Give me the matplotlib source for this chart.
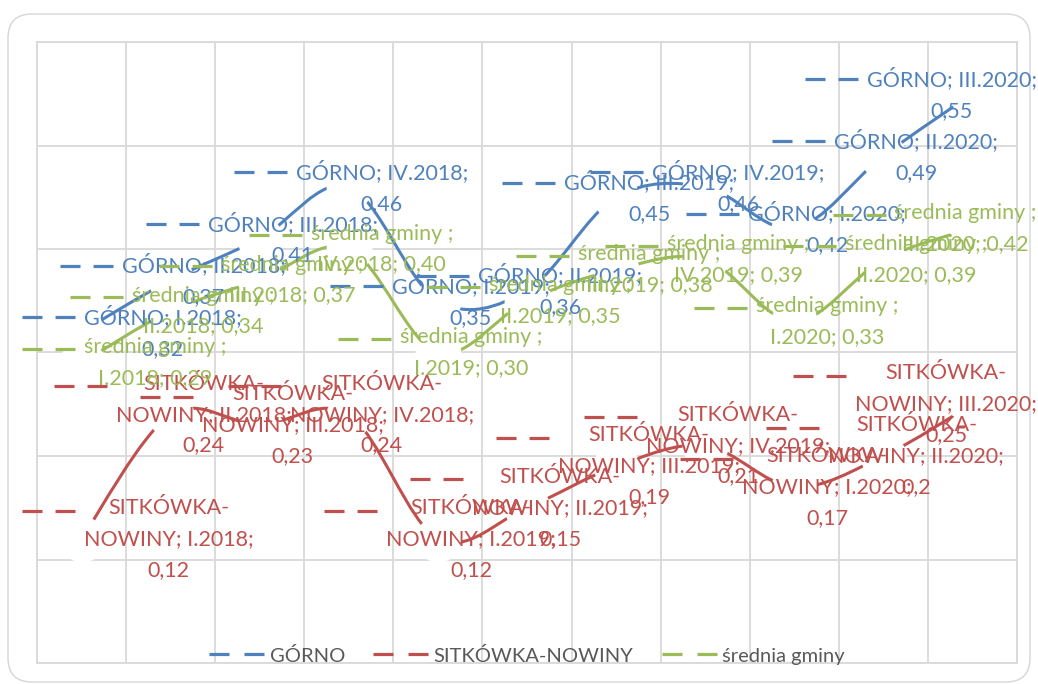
import numpy as np
import matplotlib
matplotlib.use("Agg")
import matplotlib.pyplot as plt
from matplotlib.path import Path
from matplotlib.patches import PathPatch, FancyBboxPatch
from matplotlib.lines import Line2D
from matplotlib.transforms import IdentityTransform

plt.rcParams['lines.scale_dashes'] = False

categories = ["I.2018", "II.2018", "III.2018", "IV.2018", "I.2019", "II.2019",
              "III.2019", "IV.2019", "I.2020", "II.2020", "III.2020"]
gorno = [0.32, 0.37, 0.41, 0.46, 0.35, 0.36, 0.45, 0.46, 0.42, 0.49, 0.55]
sitkowka = [0.12, 0.24, 0.23, 0.24, 0.12, 0.15, 0.19, 0.21, 0.17, 0.20, 0.25]
srednia = [0.29, 0.34, 0.37, 0.40, 0.30, 0.35, 0.38, 0.39, 0.33, 0.39, 0.42]
series_names = ["GÓRNO", "SITKÓWKA-NOWINY", "średnia gminy"]
colors = ["#4F81BD", "#C0504D", "#9BBB59"]

FONT = "Lato"
FS = 15.5

W_PX, H_PX = 1038, 684
fig = plt.figure(figsize=(W_PX / 100, H_PX / 100), dpi=100)
fig.patch.set_facecolor("white")

# outer rounded frame
frame = FancyBboxPatch((8, 2), 1022, 668, boxstyle="round,pad=0,rounding_size=24",
                       transform=IdentityTransform(), facecolor="none",
                       edgecolor="#d6d6d6", lw=1.0, zorder=-1)
fig.patches.append(frame)

ax = fig.add_axes([37 / W_PX, 21 / H_PX, 980 / W_PX, 621 / H_PX])
ax.set_facecolor("none")
n = len(categories)
x = np.arange(n)
ax.set_xlim(-0.5, n - 0.5)
ax.set_ylim(0, 0.6)
ax.set_xticks(np.arange(-0.5, n, 1.0))
ax.set_yticks(np.arange(0, 0.61, 0.1))
ax.tick_params(length=0, labelbottom=False, labelleft=False)
ax.grid(True, color="#d9d9d9", lw=1.3, zorder=0)
ax.set_axisbelow(True)
for s in ax.spines.values():
    s.set_color("#d9d9d9")
    s.set_linewidth(1.3)


def smooth_path(xs, ys):
    pts = np.column_stack([xs, ys]).astype(float)
    m = len(pts)
    verts = [tuple(pts[0])]
    codes = [Path.MOVETO]
    for i in range(m - 1):
        p0 = pts[max(i - 1, 0)]
        p1 = pts[i]
        p2 = pts[i + 1]
        p3 = pts[min(i + 2, m - 1)]
        c1 = p1 + (p2 - p0) / 6.0
        c2 = p2 - (p3 - p1) / 6.0
        verts += [tuple(c1), tuple(c2), tuple(p2)]
        codes += [Path.CURVE4] * 3
    return Path(verts, codes)


all_vals = [gorno, sitkowka, srednia]
for vals, c in zip(all_vals, colors):
    ax.add_patch(PathPatch(smooth_path(x, vals), facecolor="none", edgecolor=c,
                           lw=2.2, transform=ax.transData, zorder=2))
for vals in all_vals:
    ax.plot(x, vals, linestyle="none", marker="o", ms=33, mfc="white",
            mec="none", zorder=3)


def fmt_general(v):
    s = f"{v:.2f}".rstrip("0").rstrip(".")
    return s.replace(".", ",")


def fmt_two(v):
    return f"{v:.2f}".replace(".", ",")


def label_text(k, cat, v):
    if k == 0:
        return f"GÓRNO; {cat};\n{fmt_general(v)}"
    if k == 1:
        return f"SITKÓWKA-\nNOWINY; {cat};\n{fmt_general(v)}"
    return f"średnia gminy ;\n{cat}; {fmt_two(v)}"


renderer = fig.canvas.get_renderer()
KEY_W, GAP = 53, 9
LEFT_LIM, RIGHT_LIM = 22, 1037
for k, (vals, c) in enumerate(zip(all_vals, colors)):
    for i, v in enumerate(vals):
        s = label_text(k, categories[i], v)
        nlines = s.count("\n") + 1
        t = ax.annotate(s, xy=(i, v), xycoords="data", xytext=(0, 0),
                        textcoords="offset pixels", ha="center", va="center",
                        multialignment="center", color=c, fontsize=FS,
                        family=FONT, linespacing=1.68, zorder=6,
                        annotation_clip=False)
        bb = t.get_window_extent(renderer)
        w, h = bb.width, bb.height
        px, py = ax.transData.transform((i, v))
        total = KEY_W + GAP + w
        L = px - total / 2 + 2
        L = min(max(L, LEFT_LIM), RIGHT_LIM - total)
        cx = L + KEY_W + GAP + w / 2
        t.xyann = (cx - px, 0)
        line_h = h / nlines
        ky = py + h / 2 - line_h / 2 + 1
        key = Line2D([L, L + KEY_W], [ky, ky], transform=IdentityTransform(),
                     color=c, lw=2.3, dashes=(14.4, 9.4), solid_capstyle="butt",
                     dash_capstyle="butt", zorder=6)
        key.set_clip_on(False)
        ax.add_artist(key)

handles = [Line2D([], [], color=c, lw=2.3, dashes=(14.4, 10.8), dash_capstyle="butt")
           for c in colors]
leg = ax.legend(handles, series_names, loc="center", bbox_to_anchor=(0.5, 0.012),
                bbox_transform=ax.transAxes, ncol=3, frameon=False,
                prop={"family": FONT, "size": 14.5}, handlelength=2.75,
                handletextpad=0.25, columnspacing=1.4, labelcolor="#595959")
leg.set_zorder(7)

fig.savefig("out.png", dpi=100, facecolor="white")
